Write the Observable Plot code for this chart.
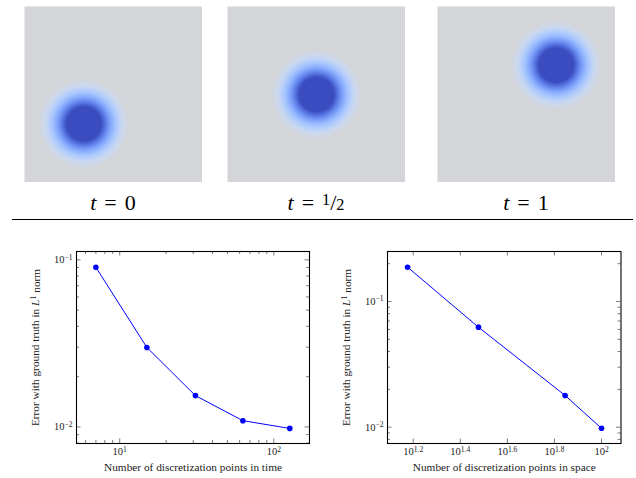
<!DOCTYPE html>
<html><head><meta charset="utf-8">
<script src="https://cdn.jsdelivr.net/npm/d3@7"></script>
<script src="https://cdn.jsdelivr.net/npm/@observablehq/plot@0.6"></script>
<style>
html,body{margin:0;padding:0;background:#fff;}
#fig{position:relative;width:636px;height:478px;overflow:hidden;font-family:"Liberation Serif",serif;}
#fig svg{font-family:"Liberation Serif",serif !important;font-size:10px;}
.lab{position:absolute;text-align:center;font-size:22px;line-height:22px;color:#000;word-spacing:2.5px;white-space:nowrap;font-family:"Liberation Serif",serif;}
.lab i{font-style:italic;}
.fr{font-size:0.74em;}
.up{position:relative;top:-0.3em;}
.rule{position:absolute;left:12px;top:219px;width:621px;height:1.2px;background:#000;}
</style></head><body><div id="fig"></div>
<script>
// ---- data ----
const snapshotTimes = ["0", "1/2", "1"];
const blobX = [1/3, 1/2, 2/3];          // blob centre, fraction of image width
const blobY = [2/3, 1/2, 1/3];          // blob centre, fraction of image height (from top)
const blobSpread = 0.115;

const timePoints = [7, 15, 31, 63, 127];
const timeError = [0.0903, 0.0299, 0.0154, 0.0109, 0.0098];
const spacePoints = [15, 30, 70, 100];
const spaceError = [0.1875, 0.0625, 0.0179, 0.0098];

const timeXExp = [1, 2];
const timeXMinor = [6, 7, 8, 9, 20, 30, 40, 50, 60, 70, 80, 90];
const timeYExp = [-1, -2];
const timeYMinor = [0.008, 0.009, 0.02, 0.03, 0.04, 0.05, 0.06, 0.07, 0.08, 0.09];
const spaceXExp = [1.2, 1.4, 1.6, 1.8, 2];
const spaceXMinor = [];
const spaceYExp = [-1, -2];
const spaceYMinor = [0.008, 0.009, 0.02, 0.03, 0.04, 0.05, 0.06, 0.07, 0.08, 0.09, 0.2];

const xTitleTime = "Number of discretization points in time";
const xTitleSpace = "Number of discretization points in space";
const yTitle = "Error with ground truth in L¹ norm";

// ---- layout / style ----
const fig = document.getElementById("fig");
const coolwarmLow = ["#d4d5d9", "#ccd9ee", "#b8d0f9", "#a3c2ff", "#8db0fe", "#779af7", "#6282ea", "#4d68d7", "#3b4cc0"];
const cmap = d3.piecewise(d3.interpolateRgb, coolwarmLow);
const imgLeft = [24, 227, 437];

snapshotTimes.forEach((tv, i) => {
  const cx = blobX[i], cy = blobY[i], s = blobSpread;
  const svg = Plot.plot({
    width: 178, height: 176, margin: 0,
    style: {background: "none"},
    x: {domain: [0, 1], axis: null},
    y: {domain: [0, 1], reverse: true, axis: null},
    color: {type: "linear", domain: [0.08, 0.7], interpolate: cmap, clamp: true},
    marks: [
      Plot.raster({x1: 0, y1: 0, x2: 1, y2: 1,
        fill: (x, y) => Math.exp(-((x - cx) ** 2 + (y - cy) ** 2) / (2 * s * s))})
    ]
  });
  svg.style.position = "absolute";
  svg.style.left = imgLeft[i] + "px";
  svg.style.top = "6px";
  fig.appendChild(svg);

  const lab = document.createElement("div");
  lab.className = "lab";
  lab.style.left = (imgLeft[i] - 20) + "px";
  lab.style.width = "218px";
  lab.style.top = "192px";
  let val = tv;
  if (tv.includes("/")) {
    const [a, b] = tv.split("/");
    val = `<span class="fr up">${a}</span>/<span class="fr">${b}</span>`;
  }
  lab.innerHTML = `<i>t</i> = ${val}`;
  fig.appendChild(lab);
});

const rule = document.createElement("div");
rule.className = "rule";
fig.appendChild(rule);

function expStr(e) {
  return "10^" + String(e).replace("-", "\u2212");
}
function patch(svg) {
  d3.select(svg).selectAll("text").each(function () {
    const s = this.textContent;
    if (/^10\^/.test(s)) {
      const ex = s.slice(3);
      this.innerHTML = `10<tspan dy="-0.45em" font-size="0.72em">${ex}</tspan>`;
    } else if (s === yTitle) {
      this.innerHTML = `Error with ground truth in <tspan font-style="italic">L</tspan><tspan dy="-0.4em" font-size="0.72em">1</tspan><tspan dy="0.4em"> norm</tspan>`;
    }
  });
}

function logPanel({left, width, mL, mR, xDomain, yDomain, xs, ys, xExp, xMinor, yExp, yMinor, xTitle}) {
  const height = 238, mT = 11, mB = 35;
  const W = width - mL - mR, H = height - mT - mB;
  const maj = 4.5, mnr = 3;
  const data = xs.map((n, i) => ({n, err: ys[i]}));
  const xMaj = xExp.map(e => 10 ** e);
  const yMaj = yExp.map(e => 10 ** e);
  const fmtX = d => expStr(Math.round(Math.log10(d) * 10) / 10);
  const tk = {stroke: "#444", strokeWidth: 0.7};
  const svg = Plot.plot({
    width, height, marginLeft: mL, marginRight: mR, marginTop: mT, marginBottom: mB,
    style: "background:none;font-family:'Liberation Serif',serif;font-size:10px;color:#222;overflow:visible;",
    x: {type: "log", domain: xDomain},
    y: {type: "log", domain: yDomain},
    marks: [
      Plot.ruleX(xMinor, {...tk, insetTop: H - mnr}),
      Plot.ruleX(xMinor, {...tk, insetBottom: H - mnr}),
      Plot.ruleX(xMaj, {...tk, insetTop: H - maj}),
      Plot.ruleX(xMaj, {...tk, insetBottom: H - maj}),
      Plot.ruleY(yMinor, {...tk, insetRight: W - mnr}),
      Plot.ruleY(yMinor, {...tk, insetLeft: W - mnr}),
      Plot.ruleY(yMaj, {...tk, insetRight: W - maj}),
      Plot.ruleY(yMaj, {...tk, insetLeft: W - maj}),
      Plot.axisX({ticks: xMaj, tickSize: 0, tickPadding: 4, tickFormat: fmtX, label: null, fontSize: 10.5}),
      Plot.axisY({ticks: yMaj, tickSize: 0, tickPadding: 4, tickFormat: fmtX, label: null, fontSize: 10.5}),
      Plot.line(data, {x: "n", y: "err", stroke: "#0000ff", strokeWidth: 1}),
      Plot.dot(data, {x: "n", y: "err", r: 2.8, fill: "#0000ff", stroke: "none"}),
      Plot.frame({stroke: "#000", strokeWidth: 1.1}),
      Plot.text([xTitle], {frameAnchor: "bottom", dy: 27, text: d => d, fontSize: 11.3, fill: "#222"}),
      Plot.text([yTitle], {frameAnchor: "left", textAnchor: "middle", rotate: -90, dx: -41, text: d => d, fontSize: 11.3, fill: "#222"})
    ]
  });
  patch(svg);
  svg.style.position = "absolute";
  svg.style.left = left + "px";
  svg.style.top = "240px";
  fig.appendChild(svg);
}

logPanel({left: 0, width: 320, mL: 76, mR: 11,
  xDomain: [5.24, 170.5], yDomain: [0.00796, 0.1122],
  xs: timePoints, ys: timeError, xExp: timeXExp, xMinor: timeXMinor,
  yExp: timeYExp, yMinor: timeYMinor, xTitle: xTitleTime});
logPanel({left: 316, width: 320, mL: 71, mR: 15.5,
  xDomain: [12.32, 121], yDomain: [0.00742, 0.250],
  xs: spacePoints, ys: spaceError, xExp: spaceXExp, xMinor: spaceXMinor,
  yExp: spaceYExp, yMinor: spaceYMinor, xTitle: xTitleSpace});
</script></body></html>
